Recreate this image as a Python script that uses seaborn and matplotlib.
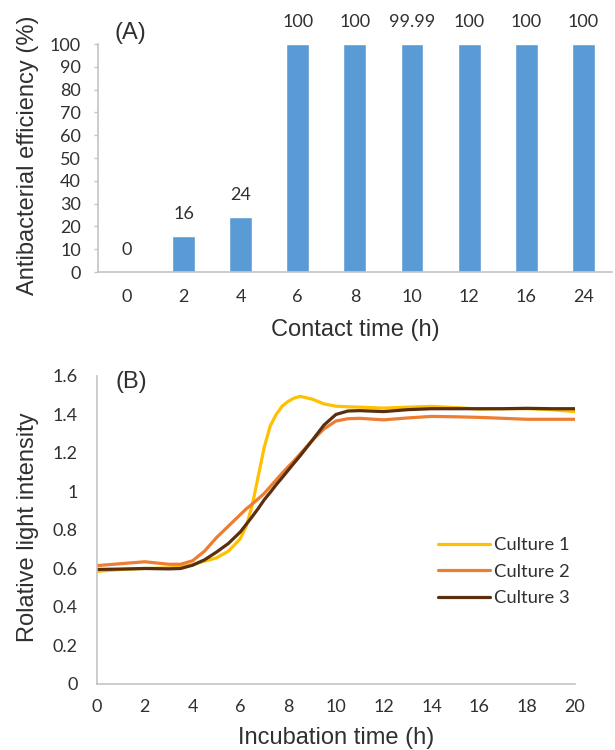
import matplotlib
matplotlib.use("Agg")
import matplotlib.pyplot as plt
import seaborn as sns
import pandas as pd

# Panel A: antibacterial efficiency versus contact time
contact_time = ["0", "2", "4", "6", "8", "10", "12", "16", "24"]
efficiency = [0, 16, 24, 100, 100, 99.99, 100, 100, 100]
efficiency_labels = ["0", "16", "24", "100", "100", "99.99", "100", "100", "100"]

# Panel B: relative light intensity of three cultures during incubation
incubation_time = [0, 1, 2, 3, 3.5, 4, 4.5, 5, 5.5, 6, 6.25, 6.5, 6.75, 7, 7.25,
                   7.5, 7.75, 8, 8.25, 8.5, 9, 9.5, 10, 10.5, 11, 12, 13, 14,
                   15, 16, 17, 18, 19, 20]
culture1 = [0.585, 0.595, 0.600, 0.603, 0.608, 0.620, 0.638, 0.655, 0.690, 0.755,
            0.820, 0.930, 1.080, 1.230, 1.340, 1.400, 1.443, 1.468, 1.485, 1.494,
            1.480, 1.455, 1.443, 1.440, 1.438, 1.433, 1.438, 1.442, 1.436, 1.428,
            1.430, 1.430, 1.425, 1.415]
culture2 = [0.615, 0.625, 0.635, 0.622, 0.622, 0.640, 0.690, 0.760, 0.820, 0.880,
            0.910, 0.935, 0.962, 0.990, 1.025, 1.060, 1.095, 1.128, 1.160, 1.195,
            1.264, 1.325, 1.366, 1.378, 1.380, 1.372, 1.382, 1.390, 1.388, 1.385,
            1.380, 1.375, 1.375, 1.375]
culture3 = [0.595, 0.597, 0.600, 0.598, 0.600, 0.617, 0.645, 0.685, 0.730, 0.790,
            0.830, 0.870, 0.912, 0.957, 0.995, 1.035, 1.072, 1.110, 1.148, 1.185,
            1.264, 1.345, 1.400, 1.418, 1.420, 1.415, 1.425, 1.430, 1.430, 1.430,
            1.430, 1.432, 1.430, 1.430]
culture_names = ["Culture 1", "Culture 2", "Culture 3"]
culture_colors = ["#FFC000", "#ED7D31", "#5A2E0E"]

sns.set_style("white")
plt.rcParams["font.family"] = ["Lato", "DejaVu Sans"]

TEXT = "#303030"
SPINE = "#C4C4C4"
TITLE_FONT = ["Liberation Sans", "DejaVu Sans"]
TICK_SIZE = 13

fig = plt.figure(figsize=(6.15, 7.5), dpi=100)

# ---- Panel A ----
axA = fig.add_axes([0.159, 0.6373, 0.836, 0.304])
dfA = pd.DataFrame({"time": contact_time, "eff": efficiency})
sns.barplot(data=dfA, x="time", y="eff", order=contact_time, color="#5B9BD5",
            width=0.4, saturation=1, ax=axA)
axA.set_ylim(0, 100)
axA.set_yticks(range(0, 101, 10))
axA.set_xlim(-0.5, len(contact_time) - 0.5)
for i, (v, lab) in enumerate(zip(efficiency, efficiency_labels)):
    axA.text(i, v + 9.6, lab, ha="center", va="center", fontsize=TICK_SIZE,
             color=TEXT, clip_on=False)
axA.text(0.033, 1.048, "(A)", transform=axA.transAxes, fontsize=17,
         family=TITLE_FONT, color=TEXT, ha="left", va="center")
axA.set_xlabel("Contact time (h)", fontsize=17, family=TITLE_FONT, color=TEXT)
axA.set_ylabel("Antibacterial efficiency (%)", fontsize=17,
               family=TITLE_FONT, color=TEXT)
axA.xaxis.label.set_va("center")
axA.xaxis.set_label_coords(0.5, -0.254)
axA.yaxis.label.set_va("center")
axA.yaxis.set_label_coords(-0.136, 0.51)
axA.tick_params(axis="x", labelsize=TICK_SIZE, colors=TEXT, length=0, pad=12)
axA.tick_params(axis="y", labelsize=TICK_SIZE, labelcolor=TEXT, color=SPINE,
                length=3, width=1, direction="out", left=True, pad=9)
for s in ["top", "right"]:
    axA.spines[s].set_visible(False)
for s in ["left", "bottom"]:
    axA.spines[s].set_color(SPINE)
    axA.spines[s].set_linewidth(1.2)

# ---- Panel B ----
axB = fig.add_axes([0.1577, 0.088, 0.777, 0.4107])
dfB = pd.DataFrame({
    "time": incubation_time * 3,
    "intensity": culture1 + culture2 + culture3,
    "culture": sum([[n] * len(incubation_time) for n in culture_names], []),
})
sns.lineplot(data=dfB, x="time", y="intensity", hue="culture",
             hue_order=culture_names, palette=culture_colors, linewidth=2.3,
             ax=axB)
axB.set_xlim(0, 20)
axB.set_ylim(0, 1.6)
axB.set_xticks(range(0, 21, 2))
axB.set_yticks([0, 0.2, 0.4, 0.6, 0.8, 1.0, 1.2, 1.4, 1.6])
axB.set_yticklabels(["0", "0.2", "0.4", "0.6", "0.8", "1", "1.2", "1.4", "1.6"])
axB.text(0.038, 0.98, "(B)", transform=axB.transAxes, fontsize=17,
         family=TITLE_FONT, color=TEXT, ha="left", va="center")
axB.set_xlabel("Incubation time (h)", fontsize=17, family=TITLE_FONT, color=TEXT)
axB.set_ylabel("Rolative light intensity", fontsize=17, family=TITLE_FONT,
               color=TEXT)
axB.xaxis.label.set_va("center")
axB.xaxis.set_label_coords(0.5, -0.175)
axB.yaxis.label.set_va("center")
axB.yaxis.set_label_coords(-0.144, 0.51)
axB.tick_params(axis="x", labelsize=TICK_SIZE, colors=TEXT, length=0, pad=11)
axB.tick_params(axis="y", labelsize=TICK_SIZE, colors=TEXT, length=0, pad=14)
for s in ["top", "right"]:
    axB.spines[s].set_visible(False)
for s in ["left", "bottom"]:
    axB.spines[s].set_color(SPINE)
    axB.spines[s].set_linewidth(1.2)

leg = axB.legend(loc="upper left", bbox_to_anchor=(0.713, 0.477), frameon=False,
                 fontsize=13.2, handlelength=2.84, handletextpad=0.22,
                 labelspacing=0.58, borderaxespad=0, borderpad=0)
for t in leg.get_texts():
    t.set_color(TEXT)
for h in leg.get_lines():
    h.set_linewidth(2.3)

fig.savefig("out.png", dpi=100)
